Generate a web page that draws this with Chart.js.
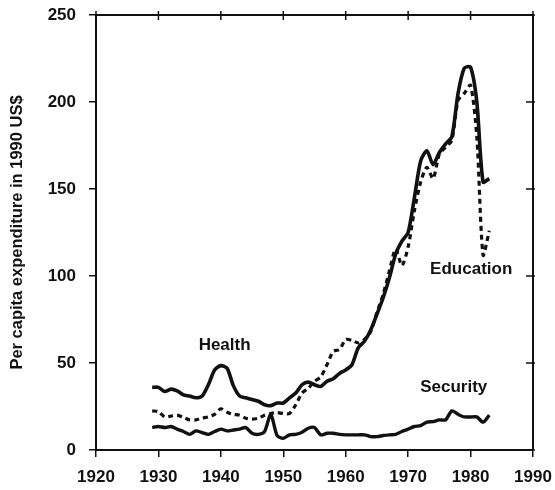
<!DOCTYPE html>
<html>
<head>
<meta charset="utf-8">
<script src="https://cdn.jsdelivr.net/npm/chart.js@4.4.0/dist/chart.umd.min.js"></script>
<style>
  html, body { margin: 0; padding: 0; background: #fff; }
  #wrap { width: 555px; height: 490px; position: relative; }
</style>
</head>
<body>
<div id="wrap"><canvas id="chart"></canvas></div>
<script>
// --- Data (per capita expenditure, 1990 US$) ---
const years = [
  1929, 1930, 1931, 1932, 1933, 1934, 1935, 1936, 1937, 1938,
  1939, 1940, 1941, 1942, 1943, 1944, 1945, 1946, 1947, 1948,
  1949, 1950, 1951, 1952, 1953, 1954, 1955, 1956, 1957, 1958,
  1959, 1960, 1961, 1962, 1963, 1964, 1965, 1966, 1967, 1968,
  1969, 1970, 1971, 1972, 1973, 1974, 1975, 1976, 1977, 1978,
  1979, 1980, 1981, 1982, 1983
];

const health = [
  36, 36, 33.6, 35, 34, 31.7, 31, 30, 31, 37.5,
  46, 48.5, 47, 37, 31, 30, 29, 28, 26, 25.5,
  27, 27, 30, 32.7, 37.5, 39, 37.5, 36.5, 39.5, 41,
  44, 46, 49, 58.7, 62.5, 69, 78, 87.5, 99, 112.5,
  120, 125, 145, 166, 172, 164, 171, 176, 180, 205,
  219.5, 220, 200, 154, 156
];

const education = [
  22.5, 22, 19, 19.5, 20, 18.7, 17.3, 17.3, 18.3, 19,
  20.5, 23.7, 21.7, 20.5, 20, 18.3, 17.7, 18.3, 20, 21,
  21.5, 21, 21, 26, 32.7, 35.5, 39.5, 42, 49, 56.7,
  57.7, 63.5, 63, 61.5, 63.5, 68, 79, 89.5, 103, 115.5,
  106, 116.7, 137.5, 154, 162.5, 156, 170, 174, 178, 201,
  205, 209.6, 180, 112, 126
];

const security = [
  12.9, 13.5, 12.9, 13.5, 12, 10.6, 9, 11, 10, 9,
  10.6, 12, 11, 11.5, 12, 12.9, 9.6, 9, 10.6, 20.5,
  8.3, 6.7, 8.7, 9, 10.2, 12.5, 12.9, 8.7, 9.6, 9.6,
  9, 8.7, 8.7, 8.7, 8.7, 7.7, 7.7, 8.3, 8.7, 9,
  10.6, 12, 13.5, 14, 16, 16.3, 17.3, 17.3, 22.5, 20.5,
  19, 19, 19, 16, 20
];

// Axis ranges / ticks
const xMin = 1920, xMax = 1990, xStep = 10;
const yMin = 0, yMax = 250, yStep = 50;

// In-plot series labels, anchored in data coordinates
const seriesLabels = ['Health', 'Education', 'Security'];
const labelYears = [1940.6, 1980.1, 1977.3];
const labelValues = [60, 104, 36];

const INK = '#111';
const FONT = 'Liberation Sans, Arial, Helvetica, sans-serif';

function toPoints(values) {
  return years.map((yr, i) => ({ x: yr, y: values[i] }));
}

// --- Plugin: top/right frame with their small ticks ---
const framePlugin = {
  id: 'frame',
  afterDraw(chart) {
    const { ctx, chartArea: a, scales } = chart;
    ctx.save();
    ctx.strokeStyle = INK;
    ctx.lineWidth = 2;
    ctx.beginPath();
    ctx.moveTo(a.left, a.top);
    ctx.lineTo(a.right, a.top);
    ctx.lineTo(a.right, a.bottom);
    ctx.stroke();

    ctx.lineWidth = 1.5;
    scales.x.ticks.forEach(t => {
      const px = scales.x.getPixelForValue(t.value);
      ctx.beginPath();
      ctx.moveTo(px, a.top - 4);
      ctx.lineTo(px, a.top + 5);
      ctx.stroke();
    });
    scales.y.ticks.forEach(t => {
      const py = scales.y.getPixelForValue(t.value);
      ctx.beginPath();
      ctx.moveTo(a.right - 7, py);
      ctx.lineTo(a.right + 2, py);
      ctx.stroke();
    });
    ctx.restore();
  }
};

// --- Plugin: series names written inside the plot ---
const labelPlugin = {
  id: 'seriesLabels',
  afterDatasetsDraw(chart) {
    const { ctx, scales } = chart;
    ctx.save();
    ctx.fillStyle = INK;
    ctx.font = 'bold 17px ' + FONT;
    ctx.textAlign = 'center';
    ctx.textBaseline = 'middle';
    seriesLabels.forEach((txt, i) => {
      ctx.fillText(txt,
        scales.x.getPixelForValue(labelYears[i]),
        scales.y.getPixelForValue(labelValues[i]));
    });
    ctx.restore();
  }
};

const lineBase = {
  borderColor: INK,
  backgroundColor: INK,
  pointRadius: 0,
  tension: 0.25,
  fill: false
};

new Chart(document.getElementById('chart').getContext('2d'), {
  type: 'line',
  data: {
    datasets: [
      Object.assign({ label: 'Health', data: toPoints(health), borderWidth: 3.6 }, lineBase),
      Object.assign({ label: 'Education', data: toPoints(education), borderWidth: 3.2, borderDash: [5, 4] }, lineBase),
      Object.assign({ label: 'Security', data: toPoints(security), borderWidth: 3.4 }, lineBase)
    ]
  },
  options: {
    responsive: true,
    maintainAspectRatio: false,
    animation: false,
    layout: { padding: { top: 15, right: 22, left: 0, bottom: 0 } },
    plugins: {
      legend: { display: false },
      tooltip: { enabled: false },
      title: { display: false }
    },
    scales: {
      x: {
        type: 'linear',
        min: xMin,
        max: xMax,
        ticks: {
          stepSize: xStep,
          color: INK,
          padding: 10,
          maxRotation: 0,
          font: { family: FONT, size: 17, weight: 'bold' },
          callback: v => String(v)
        },
        grid: { drawOnChartArea: false, tickLength: 7, color: INK, lineWidth: 1.5 },
        border: { color: INK, width: 2 },
        // fixed axis box so the plot frame lands where the reference has it
        afterFit: s => { s.height = 40; s.paddingLeft = 0; s.paddingRight = 0; }
      },
      y: {
        min: yMin,
        max: yMax,
        ticks: {
          stepSize: yStep,
          color: INK,
          padding: 13,
          font: { family: FONT, size: 17, weight: 'bold' }
        },
        grid: { drawOnChartArea: false, tickLength: 7, color: INK, lineWidth: 1.5 },
        border: { color: INK, width: 2 },
        title: {
          display: true,
          text: 'Per capita expenditure in 1990 US$',
          color: INK,
          padding: { top: 8, bottom: 4 },
          font: { family: FONT, size: 16.5, weight: 'bold' }
        },
        afterFit: s => { s.width = 96; s.paddingTop = 0; s.paddingBottom = 0; }
      }
    }
  },
  plugins: [framePlugin, labelPlugin]
});
</script>
</body>
</html>
